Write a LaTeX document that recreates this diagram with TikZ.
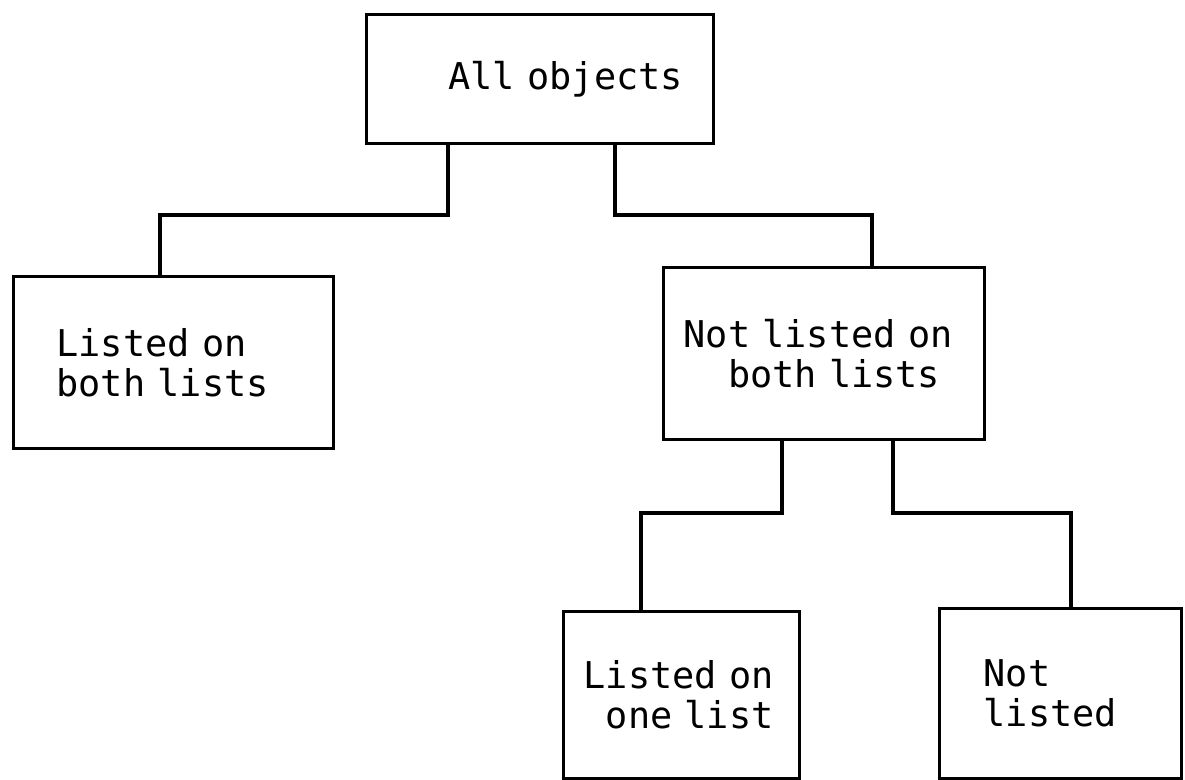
\documentclass[tikz,border=0pt]{standalone}
\usepackage{fontspec}
\newfontfamily\treefont{DejaVu Sans Mono}
\usepackage{tikz}
\usetikzlibrary{positioning,calc}
\tikzset{
  treebox/.style={draw=black,line width=1.8pt,anchor=north west,align=left,
    inner sep=0pt,font=\treefont\fontsize{21}{22.7}\selectfont,
    execute at begin node={\hyphenpenalty=10000\exhyphenpenalty=10000}},
  treeline/.style={draw=black,line width=1.8pt}
}

\begin{document}
\begin{tikzpicture}[x=0.02cm,y=-0.02cm]
  \useasboundingbox (0,0) rectangle (1185,779);
  \node[treebox,minimum width=6.94cm,minimum height=2.58cm,text width=3.66cm] (allobj) at (365,13) {\mbox{All objects}};
  \node[treebox,minimum width=6.4cm,minimum height=3.44cm,text width=4.68cm] (bothlisted) at (12,275) {Listed~on\\both~lists};
  \node[treebox,minimum width=6.42cm,minimum height=3.44cm,text width=5.62cm] (notboth) at (662,266) {Not~listed~on\\\phantom{xx}both~lists};
  \node[treebox,minimum width=4.72cm,minimum height=3.34cm,text width=3.92cm] (onelist) at (562,610) {Listed~on\\\phantom{x}one~list};
  \node[treebox,minimum width=4.84cm,minimum height=3.4cm,text width=3.08cm] (notlisted) at (938,607) {Not\\listed};
  \coordinate (forkL) at (160,215);
  \coordinate (forkR) at (872,215);
  \coordinate (forkLL) at (641,513);
  \coordinate (forkLR) at (1071,513);
  \draw[treeline] (allobj.south -| 448,0) |- (forkL) -- (forkL |- bothlisted.north);
  \draw[treeline] (allobj.south -| 615,0) |- (forkR) -- (forkR |- notboth.north);
  \draw[treeline] (notboth.south -| 782,0) |- (forkLL) -- (forkLL |- onelist.north);
  \draw[treeline] (notboth.south -| 893,0) |- (forkLR) -- (forkLR |- notlisted.north);
\end{tikzpicture}
\end{document}
